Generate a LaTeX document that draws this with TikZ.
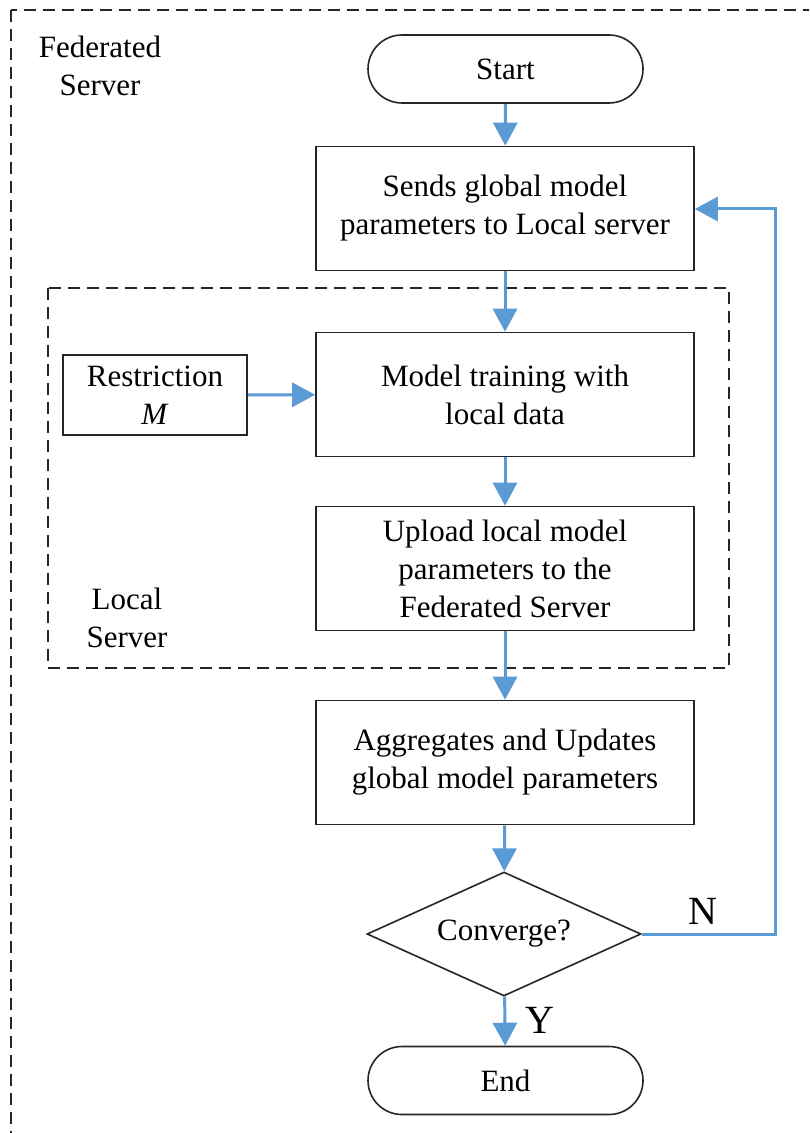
\documentclass[tikz,border=0pt]{standalone}
\usepackage{fontspec}
\setmainfont{Liberation Serif}
\usetikzlibrary{arrows.meta,shapes.geometric}
\definecolor{flowblue}{HTML}{5B9BD5}
\tikzset{
  every node/.style={font=\fontsize{15.5}{19}\selectfont},
  procbox/.style={draw=black!85, line width=0.8pt, rectangle, align=center,
    minimum width=189pt, minimum height=62pt, inner sep=0pt},
  termbox/.style={draw=black!85, line width=0.8pt, rectangle, rounded corners=17pt,
    minimum width=137.5pt, minimum height=34pt, inner sep=0pt},
  condbox/.style={draw=black!85, line width=0.8pt, diamond, aspect=2.2,
    minimum width=137pt, minimum height=62pt, inner sep=0pt},
  sidebox/.style={draw=black!85, line width=0.8pt, rectangle, align=center,
    minimum width=92pt, minimum height=40pt, inner sep=0pt},
  groupframe/.style={draw=black!85, line width=0.7pt, dash pattern=on 6pt off 3.5pt},
  flow/.style={draw=flowblue, line width=1.5pt,
    -{Triangle[width=12pt,length=11.5pt]}},
  flowline/.style={draw=flowblue, line width=1.5pt},
  branch/.style={font=\fontsize{20}{24}\selectfont},
  tag/.style={align=center}
}
\begin{document}
\begin{tikzpicture}[x=0.5pt,y=-0.5pt]
\useasboundingbox (0,0) rectangle (809,1133);
\clip (0,0) rectangle (809,1133);
\fill[white] (0,0) rectangle (809,1133);

% federated server frame (runs past the right and bottom edges)
\draw[groupframe] (11,10) rectangle (840,1160);
\node[tag] (fedlabel) at (100,66) {Federated\\Server};

% local server frame
\draw[groupframe] (48,288) rectangle (729,668);
\node[tag] (locallabel) at (127,618) {Local\\Server};

% flow steps
\node[termbox] (start) at (505.5,69) {Start};
\node[procbox] (send) at (505,208.5) {Sends global model\\parameters to Local server};
\node[procbox] (train) at (505,394.5) {Model training with\\local data};
\node[sidebox] (restrict) at (155,395) {Restriction\\\textit{M}};
\node[procbox] (upload) at (505,568.5) {Upload local model\\parameters to the\\Federated Server};
\node[procbox] (agg) at (505,762.5) {Aggregates and Updates\\global model parameters};
\node[condbox] (conv) at (504,934) {Converge?};
\node[termbox] (end) at (505.5,1080.5) {End};

% connectors
\draw[flow] (start) -- (send);
\draw[flow] (send) -- (train);
\draw[flow] (restrict) -- (train);
\draw[flow] (train) -- (upload);
\draw[flow] (upload) -- (agg);
\draw[flow] (agg) -- (conv);
\draw[flow] (conv) -- (end);
\coordinate (loopbot) at (775,934);
\coordinate (looptop) at (775,209);
\draw[flowline, -{Triangle[width=12pt,length=11.5pt]}] (conv.east) -- (loopbot) -- (looptop) -- (send.east |- looptop);

\node[branch] (nlabel) at (703,911) {N};
\node[branch] (ylabel) at (540,1020) {Y};
\end{tikzpicture}
\end{document}
